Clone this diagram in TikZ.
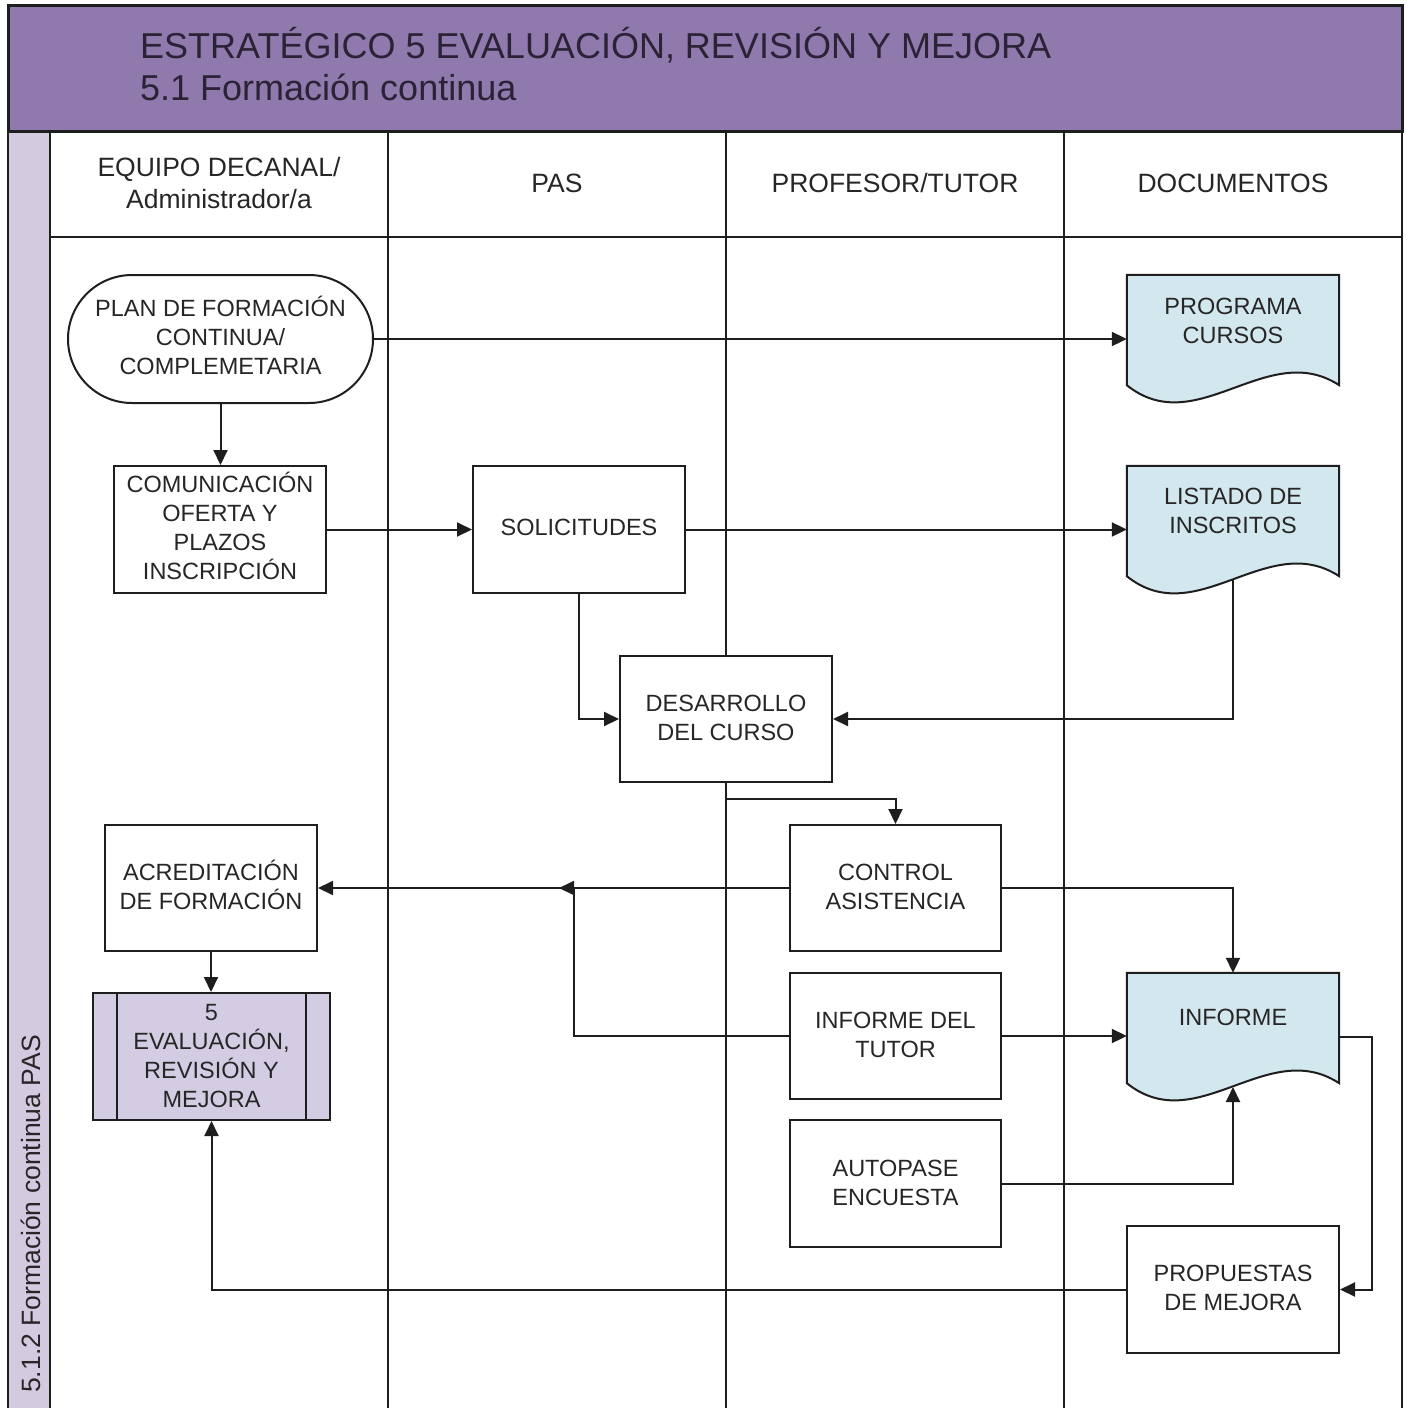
\documentclass[tikz,border=0pt]{standalone}
\usepackage{fontspec}
\setmainfont{Liberation Sans}
\usetikzlibrary{arrows.meta,calc,shapes.misc}
\definecolor{hdr}{HTML}{8F79AD}
\definecolor{band}{HTML}{D3CAE0}
\definecolor{docb}{HTML}{D3E7EF}
\definecolor{evf}{HTML}{D4CCE2}
\definecolor{ln}{HTML}{1E1E1E}
\definecolor{tx}{HTML}{262626}
\definecolor{ttx}{HTML}{2B2236}
\newcommand{\mynfont}{\fontsize{23.5}{29}\selectfont}
\newcommand{\myhfont}{\fontsize{26.5}{32}\selectfont}
\newcommand{\mytfont}{\fontsize{36}{42}\selectfont}
\newcommand{\dn}[1]{\rule[-#1pt]{0pt}{#1pt}}
\begin{document}
\begin{tikzpicture}[x=1pt,y=-1pt,
  box/.style={draw=ln,line width=2pt,fill=white,minimum width=212pt,minimum height=127pt,inner sep=0pt,align=center,font=\mynfont,text=tx},
  docn/.style={minimum width=212pt,minimum height=127pt,inner sep=0pt},
  docshape/.style={draw=ln,line width=2pt,fill=docb},
  txt/.style={align=center,font=\mynfont,text=tx,inner sep=0pt},
  hd/.style={align=center,font=\myhfont,text=tx,inner sep=0pt},
  lane/.style={draw=ln,line width=2.4pt},
  conn/.style={draw=ln,line width=2pt},
  arr/.style={conn,-{Triangle[length=15pt,width=14pt]}}
]
\useasboundingbox (0,0) rectangle (1407,1408);
\fill[white] (0,0) rectangle (1407,1408);
% title band
\fill[hdr] (8,5) rectangle (1402,131);
\fill[band] (8,131) rectangle (50,1408);
\draw[lane,line width=3pt] (8,5) rectangle (1402,131);
\draw[lane] (8,131) -- (8,1408);
\draw[lane] (50,131) -- (50,1408);
\draw[lane] (388,131) -- (388,1408);
\draw[lane] (726,131) -- (726,1408);
\draw[lane] (1064,131) -- (1064,1408);
\draw[lane] (1402,131) -- (1402,1408);
\draw[lane] (50,237) -- (1402,237);
\node[anchor=base west,font=\mytfont,text=ttx,inner sep=0pt] (t1) at (140,58) {ESTRATÉGICO 5 EVALUACIÓN, REVISIÓN Y MEJORA};
\node[anchor=base west,font=\mytfont,text=ttx,inner sep=0pt] (t2) at (140,100) {5.1 Formación continua};
\node[hd,rotate=90] (side) at (31,1214) {5.1.2 Formación continua PAS};
% headers
\node[hd] (h1) at (219,183) {EQUIPO DECANAL/\\Administrador/a};
\node[hd] (h2) at (557,183) {PAS};
\node[hd] (h3) at (895,183) {PROFESOR/TUTOR};
\node[hd] (h4) at (1233,183) {DOCUMENTOS};
% process nodes
\node[box,rounded rectangle,minimum width=305pt,minimum height=128pt] (plan) at (220.5,339) {PLAN DE FORMACIÓN\\CONTINUA/\\COMPLEMETARIA\dn{8}};
\node[box] (com) at (220,529.5) {COMUNICACIÓN\\OFERTA Y\\PLAZOS\\INSCRIPCIÓN\dn{8}};
\node[box] (sol) at (579,529.5) {SOLICITUDES\dn{4}};
\node[box,minimum height=126pt] (des) at (726,719) {DESARROLLO\\DEL CURSO\dn{2}};
\node[box,minimum width=211pt,minimum height=126pt] (ctrl) at (895.5,888) {CONTROL\\ASISTENCIA\dn{3}};
\node[box,minimum width=211pt,minimum height=126pt] (tut) at (895.5,1036) {INFORME DEL\\TUTOR\dn{2}};
\node[box,minimum width=211pt] (auto) at (895.5,1183.5) {AUTOPASE\\ENCUESTA\dn{2}};
\node[box] (prop) at (1233,1289.5) {PROPUESTAS\\DE MEJORA\dn{4}};
\node[box,minimum height=126pt] (acr) at (211,888) {ACREDITACIÓN\\DE FORMACIÓN\dn{7}};
\node[box,minimum width=237pt,fill=evf] (ev) at (211.5,1056.5) {5\\EVALUACIÓN,\\REVISIÓN Y\\MEJORA};
\draw[conn] ($(ev.north west)+(25,0)$) -- ($(ev.south west)+(25,0)$);
\draw[conn] ($(ev.north east)+(-25,0)$) -- ($(ev.south east)+(-25,0)$);
% document nodes
\node[docn] (prog) at (1233,338.5) {};
\node[docn] (list) at (1233,529.5) {};
\node[docn] (inf) at (1233,1036.5) {};
\foreach \d in {prog,list,inf}{
  \draw[docshape] (\d.north west) -- (\d.north east) -- ($(\d.south east)+(0,-17)$)
    .. controls ($(\d.south east)+(-72,-64)$) and ($(\d.south west)+(70,39)$) .. ($(\d.south west)+(0,-17)$) -- cycle;
}
\node[txt] (progt) at ($(prog.north)+(0,46.5)$) {PROGRAMA\\CURSOS};
\node[txt] (listt) at ($(list.north)+(0,45.5)$) {LISTADO DE\\INSCRITOS};
\node[txt] (inft) at ($(inf.north)+(0,45)$) {INFORME};
\coordinate (listw) at (1233,579);
\coordinate (infw) at (1233,1087);
\coordinate (jn) at (574,888);
\coordinate (jtip) at (559,888);
% connectors
\draw[arr] (plan.south) -- (plan.south |- com.north);
\draw[arr] (plan.east) -- (plan.east -| prog.west);
\draw[arr] (com.east) -- (sol.west);
\draw[arr] (sol.east) -- (sol.east -| list.west);
\draw[arr] (sol.south) |- (des.west);
\draw[arr] (listw) |- (des.east);
\draw[arr] (des.south) -- ++(0,16) -| (ctrl.north);
\draw[arr] (ctrl.west) -- (acr.east);
\draw[arr] (tut.west) -| (jn) -- (jtip);
\draw[arr] (ctrl.east) -| (inf.north);
\draw[arr] (tut.east) -- (tut.east -| inf.west);
\draw[arr] (auto.east) -| (infw);
\draw[arr] (inf.east) -- ++(33,0) |- (prop.east);
\draw[arr] (prop.west) -| (ev.south);
\draw[arr] (acr.south) -- (acr.south |- ev.north);
\end{tikzpicture}
\end{document}
